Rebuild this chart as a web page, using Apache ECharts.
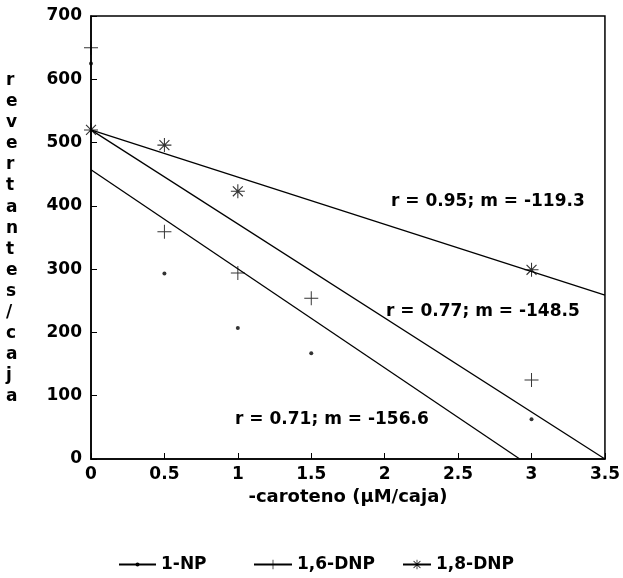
<!DOCTYPE html>
<html>
<head>
<meta charset="utf-8">
<script src="https://cdn.jsdelivr.net/npm/echarts@6/dist/echarts.min.js"></script>
<style>
  html, body { margin: 0; padding: 0; background: #fff; }
  #chart { width: 623px; height: 578px; }
</style>
</head>
<body>
<div id="chart"></div>
<script>
// Dose of carotene per plate (µM/caja)
const doses = [0, 0.5, 1, 1.5, 3];

// Revertant counts per plate for each mutagen
const np1 = [625, 293, 207, 167, 63];
const dnp16 = [650, 359, 294, 254, 125];
const dnp18 = [520, 496, 423, null, 299];

// Fitted regression lines, as [dose, revertants] end points
const fitNP1 = [[0, 457], [2.92, 0]];
const fitDNP16 = [[0, 520], [3.5, 0]];
const fitDNP18 = [[0, 520], [3.5, 259]];

const seriesNames = ['1-NP', '1,6-DNP', '1,8-DNP'];
const fitLabels = ['r = 0.71; m = -156.6', 'r = 0.77; m = -148.5', 'r = 0.95; m = -119.3'];

const xTicks = [0, 0.5, 1, 1.5, 2, 2.5, 3, 3.5];
const yTicks = [0, 100, 200, 300, 400, 500, 600, 700];

const FONT = 'DejaVu Sans';

// Marker shapes: thin plus and eight-armed asterisk
const PLUS = 'path://M0,9.3H20V10.7H0Z M9.3,0H10.7V20H9.3Z';
const STAR = 'path://M0,9.25H20V10.75H0Z M9.25,0H10.75V20H9.25Z ' +
  'M2.33,3.47L3.47,2.33L17.67,16.53L16.53,17.67Z ' +
  'M16.53,2.33L17.67,3.47L3.47,17.67L2.33,16.53Z';

const symbols = ['circle', PLUS, STAR];
const symbolSizes = [4, 14, 14];
const pointSets = [np1, dnp16, dnp18];
const fits = [fitNP1, fitDNP16, fitDNP18];

const series = [];
seriesNames.forEach((name, i) => {
  series.push({
    name: name,
    type: 'line',
    data: fits[i],
    symbol: symbols[i],
    symbolSize: symbolSizes[i],
    showSymbol: false,
    silent: true,
    lineStyle: { color: '#000', width: 1.3 },
    itemStyle: { color: '#000' },
    z: 2
  });
  series.push({
    name: name,
    type: 'scatter',
    data: doses.map((d, k) => pointSets[i][k] == null ? null : [d, pointSets[i][k]]).filter(p => p),
    symbol: symbols[i],
    symbolSize: symbolSizes[i],
    itemStyle: { color: '#000' },
    z: 3
  });
});

const labelStyle = { fontFamily: FONT, fontWeight: 'bold', fontSize: 17, fill: '#000' };

const chart = echarts.init(document.getElementById('chart'), null, { renderer: 'canvas' });
chart.setOption({
  animation: false,
  backgroundColor: '#fff',
  grid: {
    left: 91, right: 17, top: 16, bottom: 119,
    show: true, borderColor: '#000', borderWidth: 1.5, backgroundColor: 'transparent'
  },
  xAxis: {
    type: 'value',
    min: xTicks[0], max: xTicks[xTicks.length - 1], interval: 0.5,
    axisLine: { lineStyle: { color: '#000', width: 1.5 } },
    axisTick: { inside: true, length: 6, lineStyle: { color: '#000', width: 1 } },
    splitLine: { show: false },
    axisLabel: {
      color: '#000', fontFamily: FONT, fontWeight: 'bold', fontSize: 17, margin: 7,
      formatter: v => String(v)
    },
    name: '-caroteno (μM/caja)',
    nameLocation: 'middle',
    nameGap: 27,
    nameTextStyle: { color: '#000', fontFamily: FONT, fontWeight: 'bold', fontSize: 18 }
  },
  yAxis: {
    type: 'value',
    min: yTicks[0], max: yTicks[yTicks.length - 1], interval: 100,
    axisLine: { show: true, lineStyle: { color: '#000', width: 1.5 } },
    axisTick: { show: true, inside: true, length: 6, lineStyle: { color: '#000', width: 1 } },
    splitLine: { show: false },
    axisLabel: { color: '#000', fontFamily: FONT, fontWeight: 'bold', fontSize: 17, margin: 9 }
  },
  legend: seriesNames.map((name, i) => ({
    data: [name],
    left: [118, 253, 402][i],
    top: 556,
    padding: 0,
    itemWidth: [37, 38, 28][i],
    itemHeight: [5, 12, 12][i],
    itemGap: 0,
    selectedMode: false,
    textStyle: { color: '#000', fontFamily: FONT, fontWeight: 'bold', fontSize: 17 }
  })),
  graphic: [
    {
      type: 'text', left: 6, top: 70,
      style: Object.assign({}, labelStyle, {
        text: 'revertantes/caja'.split('').join('\n'),
        lineHeight: 21.1, align: 'center'
      })
    },
    { type: 'text', x: 235, y: 420, style: Object.assign({}, labelStyle, { text: fitLabels[0], verticalAlign: 'middle' }) },
    { type: 'text', x: 386, y: 312, style: Object.assign({}, labelStyle, { text: fitLabels[1], verticalAlign: 'middle' }) },
    { type: 'text', x: 391, y: 202, style: Object.assign({}, labelStyle, { text: fitLabels[2], verticalAlign: 'middle' }) }
  ],
  series: series
});
</script>
</body>
</html>
